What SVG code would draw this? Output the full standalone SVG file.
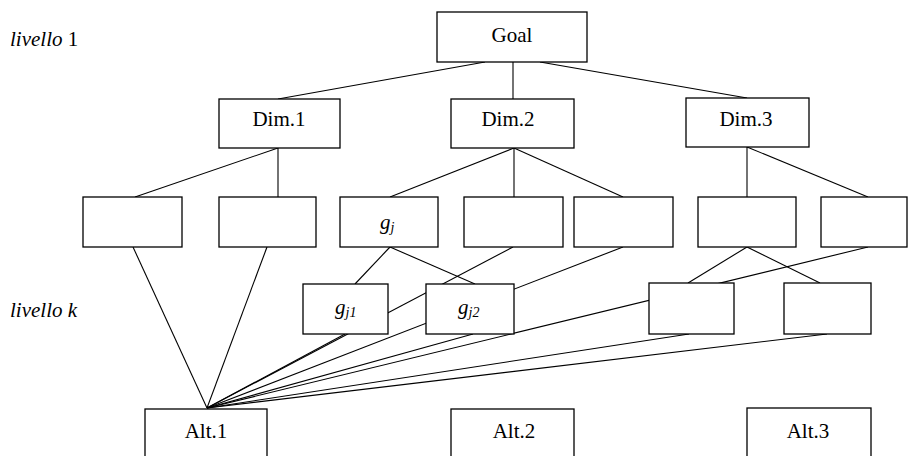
<svg xmlns="http://www.w3.org/2000/svg" width="909" height="456" viewBox="0 0 909 456">
  <style>
    .box { fill: #fff; stroke: #000; stroke-width: 1.3; }
    .edge { stroke: #000; stroke-width: 1.1; fill: none; }
    text { font-family: 'Liberation Serif', serif; font-size: 21px; fill: #000; }
    .c { text-anchor: middle; }
    .it { font-style: italic; }
    .sub { font-size: 14px; font-style: italic; }
  </style>
  <rect width="909" height="456" fill="#fff"/>

  <!-- level captions -->
  <text x="10" y="46" font-family="Liberation Serif"><tspan class="it">livello</tspan> 1</text>
  <text class="it" x="10" y="317" font-family="Liberation Serif">livello k</text>

  <!-- connectors, drawn below the white boxes -->
  <g id="connectors" class="edge">
    <line x1="485" y1="62" x2="278" y2="99"/>
    <line x1="513" y1="62" x2="513" y2="99"/>
    <line x1="540" y1="62" x2="747" y2="98"/>
    <line x1="278" y1="148" x2="135" y2="197"/>
    <line x1="278" y1="148" x2="278" y2="197"/>
    <line x1="514" y1="148" x2="390" y2="197"/>
    <line x1="514" y1="148" x2="514" y2="197"/>
    <line x1="514" y1="148" x2="623" y2="197"/>
    <line x1="747" y1="147" x2="747" y2="197"/>
    <line x1="747" y1="147" x2="868" y2="197"/>
    <line x1="390" y1="247" x2="355" y2="284"/>
    <line x1="390" y1="247" x2="475" y2="284"/>
    <line x1="747" y1="247" x2="688" y2="283"/>
    <line x1="747" y1="247" x2="820" y2="283"/>
    <!-- all paths into Alt.1 -->
    <line x1="133" y1="247" x2="207" y2="408"/>
    <line x1="267" y1="247" x2="207" y2="408"/>
    <line x1="345" y1="334" x2="207" y2="408"/>
    <line x1="513" y1="247" x2="207" y2="408"/>
    <line x1="623" y1="247" x2="207" y2="408"/>
    <line x1="473" y1="334" x2="207" y2="408"/>
    <line x1="868" y1="247" x2="207" y2="408"/>
    <line x1="689" y1="334" x2="207" y2="408"/>
    <line x1="827" y1="334" x2="207" y2="408"/>
  </g>

  <g id="goal"><rect class="box" x="437" y="12" width="150" height="50"/><text class="c" x="512" y="42" font-family="Liberation Serif">Goal</text></g>

  <g id="dim1"><rect class="box" x="219" y="99" width="121" height="49"/><text class="c" x="279" y="126" font-family="Liberation Serif">Dim.1</text></g>
  <g id="dim2"><rect class="box" x="451" y="99" width="123" height="49"/><text class="c" x="508" y="126" font-family="Liberation Serif">Dim.2</text></g>
  <g id="dim3"><rect class="box" x="686" y="98" width="123" height="49"/><text class="c" x="746" y="126" font-family="Liberation Serif">Dim.3</text></g>

  <g id="crit-a"><rect class="box" x="83" y="197" width="99" height="50"/></g>
  <g id="crit-b"><rect class="box" x="219" y="197" width="97" height="50"/></g>
  <g id="gj"><rect class="box" x="340" y="197" width="98" height="50"/><text class="it" x="380" y="229" font-family="Liberation Serif">g<tspan class="sub" dy="3">j</tspan></text></g>
  <g id="crit-d"><rect class="box" x="464" y="197" width="99" height="50"/></g>
  <g id="crit-e"><rect class="box" x="574" y="197" width="99" height="50"/></g>
  <g id="crit-f"><rect class="box" x="698" y="197" width="98" height="50"/></g>
  <g id="crit-g"><rect class="box" x="821" y="197" width="86" height="50"/></g>

  <g id="gj1"><rect class="box" x="303" y="284" width="85" height="50"/><text class="it" x="335" y="314" font-family="Liberation Serif">g<tspan class="sub" dy="3">j1</tspan></text></g>
  <g id="gj2"><rect class="box" x="426" y="284" width="88" height="50"/><text class="it" x="458" y="314" font-family="Liberation Serif">g<tspan class="sub" dy="3">j2</tspan></text></g>
  <g id="sub-h"><rect class="box" x="649" y="283" width="85" height="51"/></g>
  <g id="sub-i"><rect class="box" x="784" y="283" width="87" height="51"/></g>

  <g id="alt1"><rect class="box" x="145" y="409" width="122" height="60"/><text class="c" x="206" y="438" font-family="Liberation Serif">Alt.1</text></g>
  <g id="alt2"><rect class="box" x="451" y="409" width="123" height="60"/><text class="c" x="514" y="438" font-family="Liberation Serif">Alt.2</text></g>
  <g id="alt3"><rect class="box" x="747" y="408" width="124" height="60"/><text class="c" x="808" y="438" font-family="Liberation Serif">Alt.3</text></g>
</svg>
